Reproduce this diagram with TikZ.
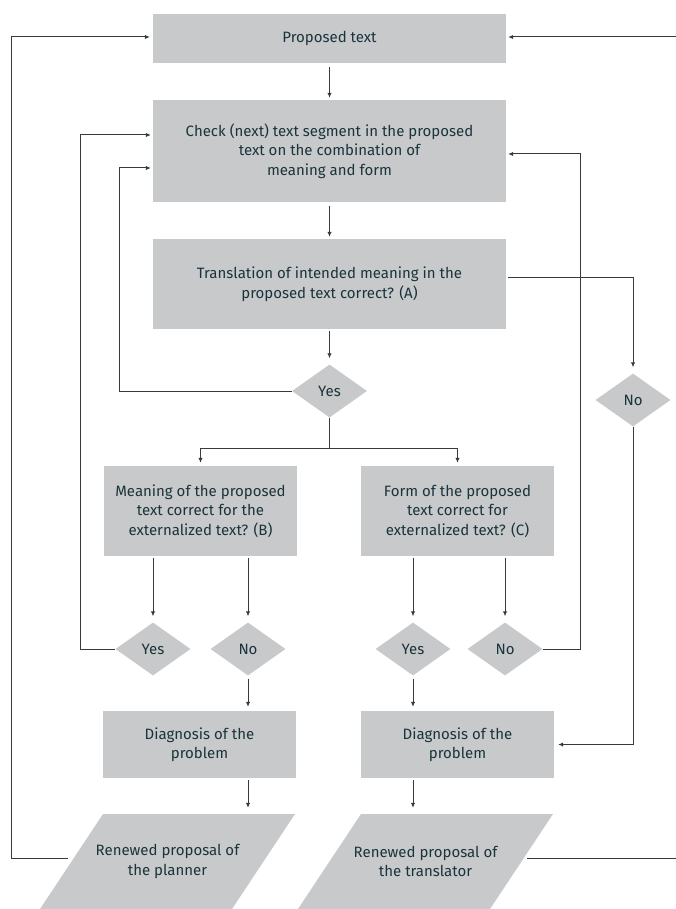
\documentclass[tikz,border=0pt]{standalone}
\usepackage{fontspec}
\setmainfont{Fira Sans}
\usetikzlibrary{shapes.geometric,arrows.meta,calc}
\definecolor{boxgray}{HTML}{C8C9CB}
\definecolor{inkcol}{HTML}{1A343B}
\definecolor{linecol}{HTML}{3A3A3A}
\begin{document}
\begin{tikzpicture}[x=1pt,y=-1pt,
  txt/.style={text=inkcol, align=center, font=\fontsize{15}{19.5}\selectfont},
  box/.style={txt, fill=boxgray, inner sep=0pt},
  stepbox/.style={box, minimum width=353pt},
  smallbox/.style={box, minimum width=193pt},
  decision/.style={txt, diamond, fill=boxgray, inner sep=0pt, minimum width=75pt, minimum height=53pt},
  partext/.style={txt, inner sep=0pt, minimum width=192pt, minimum height=95pt},
  conn/.style={draw=linecol, line width=1pt},
  arr/.style={conn, -{Latex[length=5pt,width=4.5pt]}, shorten >=2pt}]
\useasboundingbox (0,0) rectangle (676,909);

% main column
\node[stepbox, minimum height=49pt] (prop) at (329.5,38.5) {Proposed text};
\node[stepbox, minimum height=102pt] (check) at (329.5,151) {Check (next) text segment in the proposed\\text on the combination of\\meaning and form};
\node[stepbox, minimum height=90pt] (trans) at (329.5,284) {Translation of intended meaning in the\\proposed text correct? (A)};
\node[decision] (yesA) at (329.5,391) {Yes};
\node[decision] (noA) at (633,400) {No};

% second level checks
\node[smallbox, minimum height=90pt] (boxB) at (200.5,511) {Meaning of the proposed\\text correct for the\\externalized text? (B)};
\node[smallbox, minimum height=90pt] (boxC) at (457.5,511) {Form of the proposed\\text correct for\\externalized text? (C)};
\node[decision] (yesB) at (153,649) {Yes};
\node[decision] (noB) at (248,649) {No};
\node[decision] (yesC) at (413,649) {Yes};
\node[decision] (noC) at (505,649) {No};

% diagnosis
\node[smallbox, minimum height=67pt] (diag1) at (199.5,744.5) {Diagnosis of the\\problem};
\node[smallbox, minimum height=67pt] (diag2) at (457.5,744.5) {Diagnosis of the\\problem};

% renewed proposals (parallelograms)
\coordinate (p1c) at (167.5,861.5);
\coordinate (p2c) at (425.5,861.5);
\foreach \c in {p1c,p2c}{
  \fill[boxgray] ($(\c)+(-64.5,-47.5)$) -- ($(\c)+(127.5,-47.5)$) -- ($(\c)+(64.5,47.5)$) -- ($(\c)+(-127.5,47.5)$) -- cycle;
}
\node[partext] (par1) at (p1c) {Renewed proposal of\\the planner};
\node[partext] (par2) at (p2c) {Renewed proposal of\\the translator};
\coordinate (par1L) at ($(p1c)+(-93.7,-3.5)$);
\coordinate (par2R) at ($(p2c)+(97.7,-3.5)$);

% connectors
\draw[arr, shorten <=4pt] (prop) -- (check);
\draw[arr, shorten <=4pt] (check) -- (trans);
\draw[arr, shorten <=2pt, shorten >=6pt] (trans) -- (yesA);
\draw[arr] (yesA.west) -| ($(check.west)+(-33,17)$) -- ($(check.west)+(0,17)$);
\draw[arr, shorten >=3pt] (yesA.south) -- ++(0,31) -| (boxB.north);
\draw[arr, shorten >=3pt] (yesA.south) -- ++(0,31) -| (boxC.north);
\draw[arr, shorten <=2pt, shorten >=6pt] ($(trans.east)+(0,-7)$) -| (noA.north);
\draw[arr, shorten >=4pt] (noA.south) |- (diag2.east);

\draw[arr, shorten <=2pt, shorten >=6pt] (yesB |- boxB.south) -- (yesB.north);
\draw[arr, shorten <=2pt, shorten >=6pt] (noB |- boxB.south) -- (noB.north);
\draw[arr, shorten <=2pt, shorten >=6pt] (yesC |- boxC.south) -- (yesC.north);
\draw[arr, shorten <=2pt, shorten >=6pt] (noC |- boxC.south) -- (noC.north);

\draw[arr] (yesB.west) -| ($(check.west)+(-72,-16)$) -- ($(check.west)+(0,-16)$);
\draw[arr, shorten >=2pt] (noC.east) -| ($(check.east)+(74,3)$) -- ($(check.east)+(0,3)$);

\draw[arr, shorten <=3pt, shorten >=4pt] (noB.south) -- (noB |- diag1.north);
\draw[arr, shorten <=3pt, shorten >=4pt] (yesC.south) -- (yesC |- diag2.north);
\draw[arr, shorten <=2pt, shorten >=6pt] (noB |- diag1.south) -- (noB |- par1.north);
\draw[arr, shorten <=2pt, shorten >=6pt] (yesC |- diag2.south) -- (yesC |- par2.north);

\draw[arr, shorten <=6pt, shorten >=3pt] (par1L) -| ($(prop.west)+(-141,-1.5)$) -- ($(prop.west)+(0,-1.5)$);
\draw[arr, shorten <=4pt] (par2R) -| ($(prop.east)+(172,-1.5)$) -- ($(prop.east)+(0,-1.5)$);
\end{tikzpicture}
\end{document}
